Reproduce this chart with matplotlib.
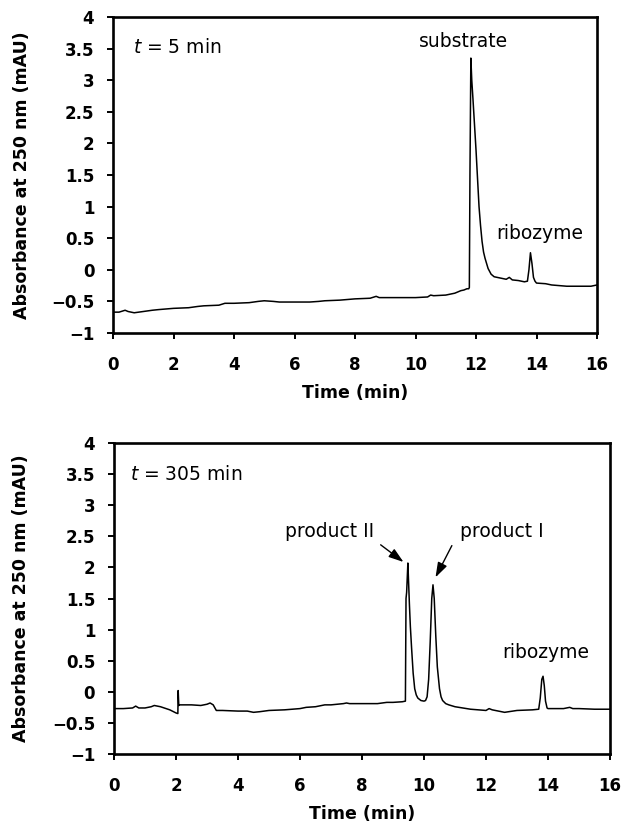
import matplotlib
matplotlib.use("Agg")
import matplotlib.pyplot as plt

plt.rcParams['font.family'] = ['DejaVu Sans']
plt.rcParams['mathtext.fontset'] = 'dejavusans'

# ---- data: t = 5 min ----
t1 = [0, 0.2, 0.4, 0.5, 0.7, 1.0, 1.3, 1.5, 2.0, 2.5, 2.8, 3.0, 3.5, 3.7, 4.0, 4.5,
      4.8, 5.0, 5.3, 5.5, 6.0, 6.5, 6.8, 7.0, 7.5, 8.0, 8.5, 8.7, 8.8, 9.0, 9.5, 10.0,
      10.4, 10.5, 10.6, 11.0, 11.3, 11.5, 11.6, 11.7, 11.76, 11.78, 11.80, 11.83, 11.86,
      11.9, 11.95, 12.0, 12.05, 12.1, 12.15, 12.2, 12.25, 12.3, 12.4, 12.5, 12.6, 12.8,
      13.0, 13.1, 13.2, 13.4, 13.6, 13.7, 13.75, 13.8, 13.85, 13.9, 13.95, 14.0, 14.3,
      14.5, 15.0, 15.5, 15.8, 16.0]
a1 = [-0.67, -0.67, -0.64, -0.66, -0.68, -0.66, -0.64, -0.63, -0.61, -0.60, -0.58, -0.57,
      -0.56, -0.53, -0.53, -0.52, -0.50, -0.49, -0.50, -0.51, -0.51, -0.51, -0.50, -0.49,
      -0.48, -0.46, -0.45, -0.42, -0.44, -0.44, -0.44, -0.44, -0.43, -0.40, -0.41, -0.40,
      -0.37, -0.33, -0.32, -0.30, -0.30, -0.28, 1.50, 3.35, 3.00, 2.70, 2.30, 1.90, 1.45,
      1.00, 0.70, 0.45, 0.28, 0.18, 0.02, -0.07, -0.11, -0.13, -0.15, -0.12, -0.16, -0.17,
      -0.19, -0.18, 0.00, 0.27, 0.10, -0.12, -0.18, -0.21, -0.22, -0.24, -0.26, -0.26,
      -0.26, -0.24]

# ---- data: t = 305 min ----
t2 = [0, 0.3, 0.6, 0.7, 0.8, 1.0, 1.2, 1.3, 1.5, 1.8, 2.0, 2.06, 2.07, 2.09, 2.12, 2.3,
      2.5, 2.8, 3.0, 3.1, 3.2, 3.3, 3.5, 4.0, 4.3, 4.5, 4.7, 5.0, 5.5, 6.0, 6.2, 6.5, 6.8,
      7.0, 7.4, 7.5, 7.6, 8.0, 8.5, 8.8, 9.0, 9.3, 9.40, 9.42, 9.44, 9.48, 9.50, 9.53,
      9.56, 9.60, 9.65, 9.70, 9.75, 9.80, 9.90, 10.0, 10.05, 10.1, 10.15, 10.2, 10.25,
      10.29, 10.33, 10.38, 10.43, 10.5, 10.55, 10.6, 10.7, 10.8, 11.0, 11.5, 12.0, 12.1,
      12.2, 12.5, 12.6, 13.0, 13.5, 13.7, 13.75, 13.8, 13.84, 13.88, 13.92, 13.97, 14.0,
      14.5, 14.7, 14.8, 15.0, 15.5, 16.0]
a2 = [-0.27, -0.27, -0.26, -0.23, -0.26, -0.26, -0.24, -0.22, -0.24, -0.29, -0.34, -0.35,
      0.02, -0.22, -0.21, -0.21, -0.21, -0.22, -0.20, -0.18, -0.21, -0.30, -0.30, -0.31,
      -0.31, -0.33, -0.32, -0.30, -0.29, -0.27, -0.25, -0.24, -0.21, -0.21, -0.19, -0.18,
      -0.19, -0.19, -0.19, -0.17, -0.17, -0.16, -0.15, 1.50, 1.60, 2.07, 1.80, 1.40, 1.05,
      0.70, 0.30, 0.05, -0.05, -0.10, -0.14, -0.15, -0.14, -0.08, 0.20, 0.80, 1.50, 1.72,
      1.50, 0.90, 0.40, 0.05, -0.08, -0.14, -0.19, -0.21, -0.24, -0.28, -0.30, -0.27,
      -0.29, -0.32, -0.33, -0.30, -0.29, -0.28, -0.10, 0.20, 0.25, 0.10, -0.15, -0.26,
      -0.27, -0.27, -0.25, -0.27, -0.27, -0.28, -0.28]

xticks = [0, 2, 4, 6, 8, 10, 12, 14, 16]
yticks = [-1, -0.5, 0, 0.5, 1, 1.5, 2, 2.5, 3, 3.5, 4]
ytick_labels = ['\u22121', '\u22120.5', '0', '0.5', '1', '1.5', '2', '2.5', '3', '3.5', '4']

W, H = 631, 825
fig = plt.figure(figsize=(W / 100, H / 100), dpi=100)
ax1 = fig.add_axes([113 / W, 1 - 333 / H, 484 / W, 316 / H])
ax2 = fig.add_axes([114 / W, 1 - 754 / H, 496 / W, 311 / H])

for ax, t, a in [(ax1, t1, a1), (ax2, t2, a2)]:
    ax.plot(t, a, color='black', lw=1.1)
    ax.set_xlim(0, 16)
    ax.set_ylim(-1, 4)
    ax.set_xticks(xticks)
    ax.set_yticks(yticks)
    ax.set_yticklabels(ytick_labels)
    ax.tick_params(direction='out', length=4.5, width=1.4, labelsize=12)
    ax.tick_params(axis='x', pad=12)
    ax.tick_params(axis='y', pad=9)
    for s in ax.spines.values():
        s.set_linewidth(1.9)
    ax.set_xlabel('Time (min)', fontsize=12.5, fontweight='bold', labelpad=7)
    ax.set_ylabel('Absorbance at 250 nm (mAU)', fontsize=12.5, fontweight='bold')
    ax.yaxis.set_label_coords(-0.17, 0.5)
    for lab in ax.get_xticklabels() + ax.get_yticklabels():
        lab.set_fontweight('bold')

txt = dict(fontsize=13.5, fontweight='normal')
ax1.text(0.67, 3.52, r'$\mathit{t}$ = 5 min', va='center', ha='left', **txt)
ax1.text(11.6, 3.62, 'substrate', va='center', ha='center', **txt)
ax1.text(14.1, 0.57, 'ribozyme', va='center', ha='center', **txt)

ax2.text(0.52, 3.49, r'$\mathit{t}$ = 305 min', va='center', ha='left', **txt)
ax2.text(6.94, 2.58, 'product II', va='center', ha='center', **txt)
ax2.text(12.5, 2.58, 'product I', va='center', ha='center', **txt)
ax2.text(13.93, 0.63, 'ribozyme', va='center', ha='center', **txt)
arrow = dict(arrowstyle='-|>,head_length=0.9,head_width=0.3', color='black', lw=1.0)
ax2.annotate('', xy=(9.41, 2.06), xytext=(8.53, 2.39), arrowprops=arrow)
ax2.annotate('', xy=(10.33, 1.80), xytext=(10.94, 2.39), arrowprops=arrow)

fig.savefig('out.png', dpi=100)
